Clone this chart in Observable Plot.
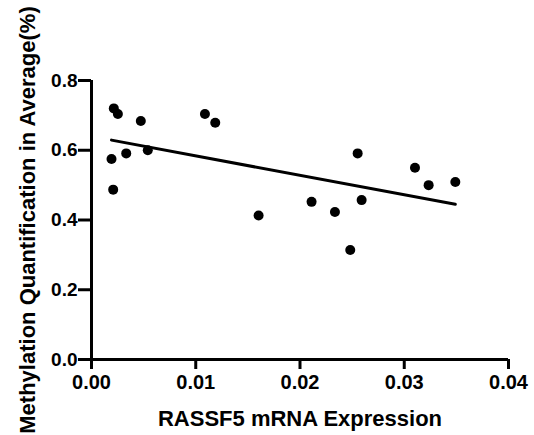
<!DOCTYPE html>
<html>
<head>
<meta charset="utf-8">
<script src="https://cdn.jsdelivr.net/npm/d3@7"></script>
<script src="https://cdn.jsdelivr.net/npm/@observablehq/plot@0.6"></script>
<style>
  html, body { margin: 0; padding: 0; background: #fff; }
  #chart svg { display: block; }
</style>
</head>
<body>
<div id="chart"></div>
<script>
// RASSF5 mRNA expression (x) vs methylation quantification in average (y)
const expression = [0.00214, 0.00253, 0.00192, 0.00208, 0.00333, 0.00473, 0.0054,
  0.01088, 0.01187, 0.01603, 0.02111, 0.02335, 0.02482, 0.02553, 0.02591,
  0.03103, 0.03234, 0.0349];
const methylation = [0.720, 0.704, 0.575, 0.487, 0.591, 0.684, 0.600,
  0.704, 0.679, 0.413, 0.452, 0.423, 0.314, 0.591, 0.457,
  0.550, 0.500, 0.509];
const xTicks = [0, 0.01, 0.02, 0.03, 0.04];
const yTicks = [0, 0.2, 0.4, 0.6, 0.8];

const data = expression.map((x, i) => ({x, y: methylation[i]}));
const font = "'Liberation Sans', Arial, sans-serif";

const chart = Plot.plot({
  width: 534,
  height: 435,
  marginLeft: 91,
  marginRight: 26,
  marginTop: 80,
  marginBottom: 76,
  style: {fontFamily: font, fontWeight: "bold", color: "#000", background: "#fff"},
  x: {domain: [0, 0.04]},
  y: {domain: [0, 0.8]},
  marks: [
    Plot.axisX({ticks: xTicks, tickFormat: () => "", tickSize: 10, strokeWidth: 3,
      fontSize: 22, fontWeight: "bold",
      label: "RASSF5 mRNA Expression", labelAnchor: "center", labelArrow: "none", labelOffset: 66}),
    Plot.axisY({ticks: yTicks, tickFormat: () => "", tickSize: 13, strokeWidth: 3,
      fontSize: 22, fontWeight: "bold",
      label: "Methylation Quantification in Average(%)", labelAnchor: "center", labelArrow: "none", labelOffset: 72}),
    Plot.text(xTicks, {x: d => d, frameAnchor: "bottom", dy: 15, lineAnchor: "top",
      text: d3.format(".2f"), fontSize: 20, fontWeight: "bold", fontFamily: font, fill: "#000"}),
    Plot.text(yTicks, {y: d => d, frameAnchor: "left", dx: -14, textAnchor: "end", lineAnchor: "middle",
      text: d3.format(".1f"), fontSize: 19, fontWeight: "bold", fontFamily: font, fill: "#000"}),
    Plot.ruleX([0], {strokeWidth: 3}),
    Plot.ruleY([0], {strokeWidth: 3}),
    Plot.linearRegressionY(data, {x: "x", y: "y", ci: 0, stroke: "#000", strokeWidth: 3}),
    Plot.dot(data, {x: "x", y: "y", r: 5, fill: "#000", stroke: "none"})
  ]
});
chart.querySelectorAll("g[aria-label='x-axis label'] text, g[aria-label='y-axis label'] text").forEach(t => {
  t.style.fontSize = "22px";
  t.style.fontWeight = "bold";
});
document.getElementById("chart").appendChild(chart);
</script>
</body>
</html>
